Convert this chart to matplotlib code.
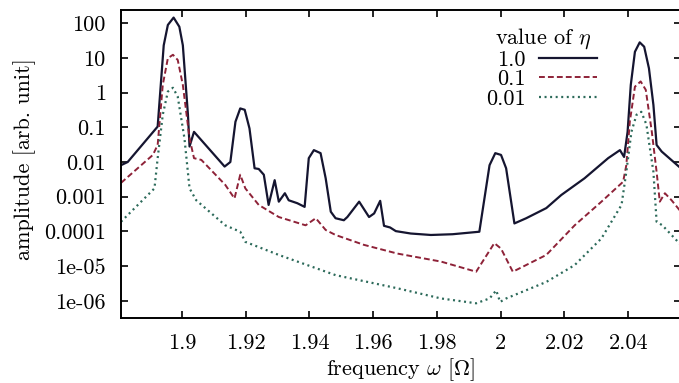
import matplotlib
matplotlib.use('Agg')
import matplotlib.pyplot as plt
from matplotlib.ticker import NullLocator

plt.rcParams['font.family'] = 'serif'
plt.rcParams['font.serif'] = ['cmr10', 'DejaVu Serif']
plt.rcParams['mathtext.fontset'] = 'cm'
plt.rcParams['axes.unicode_minus'] = False

# 数据：值
x_eta1 = [1.8809, 1.8830, 1.8924, 1.8943, 1.8956, 1.8974, 1.8992, 1.9003, 1.9019, 1.9024,
          1.9038, 1.9134, 1.9152, 1.9168, 1.9183, 1.9197, 1.9212, 1.9228, 1.9241, 1.9257,
          1.9272, 1.9291, 1.9304, 1.9323, 1.9335, 1.9362, 1.9385, 1.9398, 1.9414, 1.9435,
          1.9451, 1.9467, 1.9482, 1.9508, 1.9519, 1.9556, 1.9587, 1.9603, 1.9622, 1.9634,
          1.9653, 1.9671, 1.9718, 1.9781, 1.9849, 1.9933, 1.9965, 1.9983, 2.0001, 2.0017,
          2.0043, 2.0080, 2.0143, 2.0190, 2.0263, 2.0337, 2.0374, 2.0387, 2.0398, 2.0408,
          2.0421, 2.0436, 2.0450, 2.0465, 2.0479, 2.0489, 2.0505, 2.0565]
amp_eta1 = [8.1e-3, 1.0e-2, 1.05e-1, 23, 89, 145, 79, 23, 0.23, 0.028,
            0.074, 7.4e-3, 0.010, 0.145, 0.35, 0.32, 0.093, 6.6e-3, 6.3e-3, 4.3e-3,
            5.8e-4, 3.0e-3, 7.2e-4, 1.26e-3, 7.9e-4, 6.5e-4, 5.1e-4, 0.0129, 0.022, 0.018,
            3.4e-3, 3.7e-4, 2.4e-4, 2.1e-4, 2.6e-4, 7.2e-4, 2.6e-4, 3.3e-4, 7.6e-4, 1.45e-4,
            1.3e-4, 1.02e-4, 8.7e-5, 7.9e-5, 8.3e-5, 9.8e-5, 8.1e-3, 0.018, 0.016, 6.6e-3,
            1.7e-4, 2.4e-4, 4.7e-4, 1.12e-3, 3.4e-3, 0.0129, 0.022, 0.014, 0.074, 1.66,
            15, 28, 21, 5.0, 0.44, 0.031, 0.020, 6.6e-3]

x_eta01 = [1.8809, 1.8909, 1.8924, 1.8940, 1.8956, 1.8972, 1.8987, 1.9003, 1.9024, 1.9038,
           1.9061, 1.9136, 1.9165, 1.9183, 1.9199, 1.9241, 1.9304, 1.9388, 1.9420, 1.9451,
           1.9482, 1.9571, 1.9676, 1.9813, 1.9923, 1.9980, 2.0001, 2.0038, 2.0143, 2.0232,
           2.0316, 2.0384, 2.0394, 2.0405, 2.0421, 2.0439, 2.0455, 2.0474, 2.0489, 2.0499,
           2.0515, 2.0536, 2.0565]
amp_eta01 = [2.5e-3, 0.016, 0.031, 1.66, 9.8, 12.3, 8.7, 1.66, 0.048, 0.0129,
             0.0115, 2.2e-3, 8.9e-4, 4.3e-3, 1.74e-3, 5.8e-4, 2.6e-4, 1.5e-4, 2.4e-4, 1.1e-4,
             7.9e-5, 4.1e-5, 2.3e-5, 1.35e-5, 6.9e-6, 4.6e-5, 3.2e-5, 6.9e-6, 2.1e-5, 1.5e-4,
             7.2e-4, 2.7e-3, 8.1e-3, 0.145, 1.48, 2.1, 1.2, 0.074, 5.2e-3, 7.2e-4,
             1.26e-3, 7.9e-4, 3.7e-4]

x_eta001 = [1.8809, 1.8914, 1.8924, 1.8940, 1.8956, 1.8972, 1.8987, 1.9008, 1.9024, 1.9045,
            1.9136, 1.9183, 1.9199, 1.9304, 1.9482, 1.9676, 1.9813, 1.9923, 1.9965, 1.9986,
            1.9998, 2.0017, 2.0143, 2.0232, 2.0316, 2.0379, 2.0394, 2.0410, 2.0426, 2.0441,
            2.0457, 2.0479, 2.0489, 2.0507, 2.0565]
amp_eta001 = [1.9e-4, 1.74e-3, 0.0129, 0.23, 1.07, 1.38, 0.76, 0.048, 1.74e-3, 7.9e-4,
              1.5e-4, 9.8e-5, 5.0e-5, 2.1e-5, 5.5e-6, 2.3e-6, 1.17e-6, 8.5e-7, 1.17e-6, 2.0e-6,
              9.3e-7, 1.17e-6, 3.5e-6, 1.07e-5, 6.3e-5, 5.8e-4, 5.2e-3, 0.074, 0.23, 0.28,
              0.12, 5.2e-3, 1.9e-4, 1.5e-4, 4.1e-5]

series_labels = ['1.0', '0.1', '0.01']

xtick_values = [1.9, 1.92, 1.94, 1.96, 1.98, 2.0, 2.02, 2.04]
xtick_labels = ['1.9', '1.92', '1.94', '1.96', '1.98', '2', '2.02', '2.04']
ytick_values = [100, 10, 1, 0.1, 0.01, 0.001, 0.0001, 1e-5, 1e-6]
ytick_labels = ['100', '10', '1', '0.1', '0.01', '0.001', '0.0001', '1e-05', '1e-06']

FS = 16


def draw():
    fig = plt.figure(figsize=(6.79, 3.83), dpi=100)
    ax = fig.add_axes([0.1782, 0.1697, 0.8245, 0.8042])

    ax.plot(x_eta1, amp_eta1, color='#151530', linewidth=1.6, linestyle='-',
            label=series_labels[0])
    ax.plot(x_eta01, amp_eta01, color='#8e2238', linewidth=1.4, linestyle=(0, (3.0, 1.6)),
            label=series_labels[1])
    ax.plot(x_eta001, amp_eta001, color='#2c6a5a', linewidth=1.6, linestyle=(0, (0.9, 1.6)),
            label=series_labels[2])

    ax.set_yscale('log')
    ax.set_xlim(1.8809, 2.0565)
    ax.set_ylim(3.2e-7, 240)

    ax.set_xticks(xtick_values)
    ax.set_xticklabels(xtick_labels)
    ax.set_yticks(ytick_values)
    ax.set_yticklabels(ytick_labels)
    ax.yaxis.set_minor_locator(NullLocator())
    ax.xaxis.set_minor_locator(NullLocator())
    ax.tick_params(direction='in', length=5, width=1.2, top=True, right=True,
                   labelsize=FS, pad=11)

    for s in ax.spines.values():
        s.set_linewidth(1.4)

    ax.set_xlabel(r'frequency $\omega$ [$\Omega$]', fontsize=FS)
    ax.set_ylabel('amplitude [arb. unit]', fontsize=FS)
    ax.yaxis.set_label_coords(-0.152, 0.515)
    ax.xaxis.set_label_coords(0.5, -0.125)

    # 图例标题单独写，图例本体放在下面
    ax.text(0.7547, 0.906, r'value of $\eta$', transform=ax.transAxes,
            ha='center', va='center', fontsize=FS)
    ax.legend(loc='upper right', bbox_to_anchor=(0.850, 0.870), frameon=False,
              markerfirst=False, fontsize=FS, handlelength=2.6, handletextpad=0.6,
              labelspacing=0.0, borderpad=0, borderaxespad=0)

    fig.savefig('out.png', dpi=100)


if __name__ == '__main__':
    draw()
